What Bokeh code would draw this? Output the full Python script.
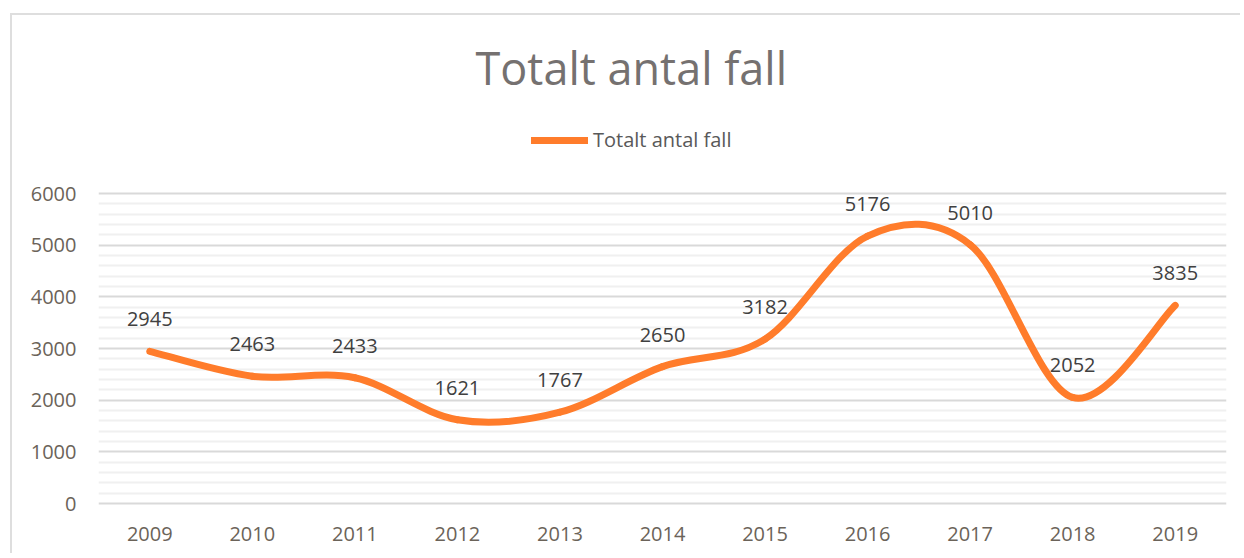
import numpy as np
from bokeh.plotting import figure
from bokeh.models import (Range1d, FixedTicker, Legend, LegendItem, ColumnDataSource)
from bokeh.core.properties import value
from bokeh.embed import file_html
from bokeh.resources import INLINE

# ---- data ----
title_text = "Totalt antal fall"
series_name = "Totalt antal fall"
years = [2009, 2010, 2011, 2012, 2013, 2014, 2015, 2016, 2017, 2018, 2019]
counts = [2945, 2463, 2433, 1621, 1767, 2650, 3182, 5176, 5010, 2052, 3835]
y_ticks = [0, 1000, 2000, 3000, 4000, 5000, 6000]

FONT = value("Open Sans")
ORANGE = "#ff7c2b"
TICK_COL = "#6b6359"

# geometry (px)
W, H = 1230, 540
FRAME_TOP, Y6000, Y0, FRAME_BOTTOM = 100, 178, 488, 491
PX_PER_UNIT = (Y0 - Y6000) / 6000.0
Y_TOP = (Y0 - FRAME_TOP) / PX_PER_UNIT        # room above 6000 for the legend
Y_BOT = -(FRAME_BOTTOM - Y0) / PX_PER_UNIT    # keep the 0 gridline fully visible

# smoothed line (Catmull-Rom style Bezier segments, like a spreadsheet "smoothed line")
x = np.array(years, dtype=float)
y = np.array(counts, dtype=float)
xp = np.concatenate([[x[0]], x, [x[-1]]])
yp = np.concatenate([[y[0]], y, [y[-1]]])
n = len(x)
x0, y0 = x[:-1], y[:-1]
x1, y1 = x[1:], y[1:]
cx0 = x0 + (xp[2:n + 1] - xp[0:n - 1]) / 6.0
cy0 = y0 + (yp[2:n + 1] - yp[0:n - 1]) / 6.0
cx1 = x1 - (xp[3:n + 2] - xp[1:n]) / 6.0
cy1 = y1 - (yp[3:n + 2] - yp[1:n]) / 6.0

p = figure(width=W, height=H, output_backend="svg", toolbar_location=None,
           x_range=Range1d(2008.5, 2019.5), y_range=Range1d(Y_BOT, Y_TOP),
           min_border_left=86, min_border_right=16, min_border_bottom=H - FRAME_BOTTOM,
           min_border_top=FRAME_TOP, margin=(13, 0, 0, 10),
           styles={"border-left": "2px solid #dedede", "border-top": "2px solid #dedede"})
p.outline_line_color = None
p.background_fill_color = "white"
p.border_fill_color = "white"

p.xgrid.grid_line_color = None
p.ygrid.grid_line_color = "#d9d9d9"
p.ygrid.grid_line_width = 2
p.ygrid.minor_grid_line_color = "#f0f0f0"
p.ygrid.minor_grid_line_width = 2

minor = [v for v in range(0, 6001, 200) if v % 1000 != 0]
p.yaxis.ticker = FixedTicker(ticks=y_ticks, minor_ticks=minor)
p.xaxis.ticker = FixedTicker(ticks=years)

for ax in (p.xaxis, p.yaxis):
    ax.axis_line_color = None
    ax.major_tick_line_color = None
    ax.minor_tick_line_color = None
    ax.major_tick_out = 0
    ax.major_tick_in = 0
    ax.minor_tick_out = 0
    ax.minor_tick_in = 0
    ax.major_label_text_font = "Open Sans"
    ax.major_label_text_font_size = "20px"
    ax.major_label_text_color = TICK_COL
p.yaxis.major_label_standoff = 22
p.xaxis.major_label_standoff = 20

src = ColumnDataSource(dict(x0=x0, y0=y0, x1=x1, y1=y1, cx0=cx0, cy0=cy0, cx1=cx1, cy1=cy1))
curve = p.bezier(x0="x0", y0="y0", x1="x1", y1="y1", cx0="cx0", cy0="cy0", cx1="cx1", cy1="cy1",
                 source=src, line_color=ORANGE, line_width=7, line_cap="round")

p.text(x=years, y=counts, text=[str(c) for c in counts], y_offset=-32,
       text_align="center", text_baseline="middle", text_font=FONT,
       text_font_size="20px", text_color="#404040")

legend = Legend(items=[LegendItem(label=series_name, renderers=[curve], index=0)],
                location=(433, 353), orientation="horizontal", margin=0, padding=0,
                glyph_width=57, glyph_height=20, label_height=20, label_standoff=5,
                label_text_font="Open Sans", label_text_font_size="20px",
                label_text_color="#595959", border_line_color=None,
                background_fill_alpha=0)
p.add_layout(legend, "center")

p.title.text = title_text
p.title.text_font = "Open Sans"
p.title.text_font_size = "45px"
p.title.text_font_style = "normal"
p.title.text_color = "#757170"
p.title.align = "left"
p.title.offset = 377
p.title.standoff = 36

open("out.html", "w").write(file_html(p, INLINE))
